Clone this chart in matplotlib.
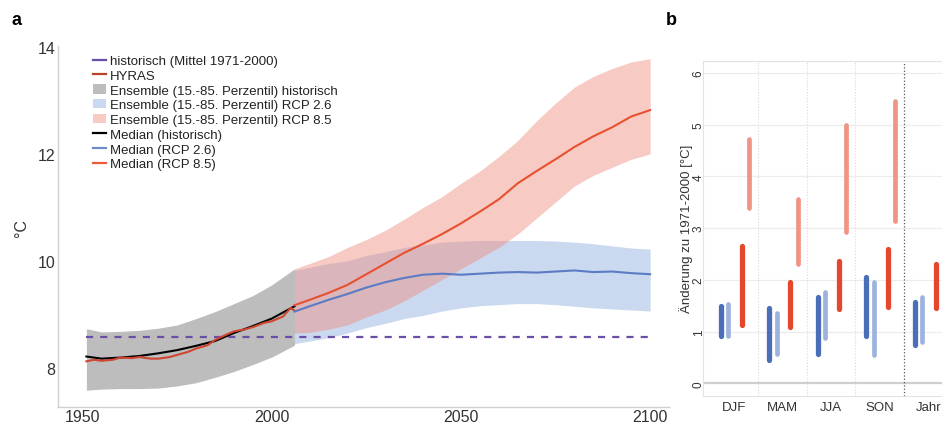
import numpy as np
import matplotlib
matplotlib.use("Agg")
import matplotlib.pyplot as plt
from matplotlib.lines import Line2D
from matplotlib.patches import Patch

plt.rcParams['font.family'] = ['Liberation Sans', 'DejaVu Sans']

# --- panel a: time series ---
hist_years = [1951, 1955, 1960, 1965, 1970, 1975, 1980, 1985, 1990, 1995, 2000, 2006]
hist_lo = [7.58, 7.60, 7.61, 7.61, 7.62, 7.66, 7.72, 7.82, 7.93, 8.06, 8.20, 8.42]
hist_hi = [8.73, 8.67, 8.68, 8.70, 8.74, 8.80, 8.92, 9.05, 9.20, 9.35, 9.55, 9.85]
hist_median = [8.21, 8.17, 8.19, 8.22, 8.27, 8.33, 8.41, 8.50, 8.65, 8.78, 8.92, 9.15]

hyras_years = [1951, 1953, 1955, 1958, 1960, 1963, 1965, 1968, 1970, 1973, 1975, 1978,
               1980, 1983, 1985, 1988, 1990, 1993, 1995, 1998, 2000, 2003, 2005, 2006]
hyras = [8.12, 8.15, 8.13, 8.15, 8.19, 8.18, 8.20, 8.17, 8.17, 8.20, 8.24, 8.30,
         8.36, 8.42, 8.52, 8.62, 8.68, 8.72, 8.76, 8.84, 8.87, 8.96, 9.12, 9.07]

rcp_years = [2006, 2010, 2015, 2020, 2025, 2030, 2035, 2040, 2045, 2050,
             2055, 2060, 2065, 2070, 2075, 2080, 2085, 2090, 2095, 2100]
rcp26_lo = [8.45, 8.50, 8.56, 8.65, 8.75, 8.83, 8.92, 8.98, 9.06, 9.12,
            9.16, 9.18, 9.20, 9.20, 9.18, 9.15, 9.12, 9.10, 9.08, 9.06]
rcp26_hi = [9.82, 9.88, 9.95, 10.00, 10.10, 10.17, 10.25, 10.30, 10.35, 10.37,
            10.38, 10.38, 10.38, 10.38, 10.37, 10.35, 10.32, 10.28, 10.24, 10.22]
rcp26_median = [9.05, 9.15, 9.27, 9.38, 9.50, 9.60, 9.68, 9.74, 9.76, 9.74,
                9.76, 9.78, 9.79, 9.78, 9.80, 9.82, 9.79, 9.80, 9.77, 9.75]
rcp85_lo = [8.65, 8.66, 8.72, 8.80, 8.95, 9.08, 9.25, 9.45, 9.65, 9.85,
            10.05, 10.25, 10.50, 10.80, 11.10, 11.40, 11.60, 11.75, 11.90, 12.00]
rcp85_hi = [9.85, 9.95, 10.08, 10.25, 10.40, 10.57, 10.78, 11.00, 11.20, 11.45,
            11.68, 11.95, 12.25, 12.62, 12.95, 13.25, 13.45, 13.60, 13.72, 13.78]
rcp85_median = [9.17, 9.27, 9.40, 9.55, 9.75, 9.95, 10.15, 10.32, 10.50, 10.70,
                10.92, 11.15, 11.45, 11.68, 11.90, 12.13, 12.33, 12.50, 12.70, 12.82]

ref_mean = 8.58  # Mittel 1971-2000

# --- panel b: change ranges per season ---
seasons = ['DJF', 'MAM', 'JJA', 'SON', 'Jahr']
rcp26_near = ([0.92, 0.45, 0.57, 0.91, 0.74], [1.49, 1.45, 1.67, 2.06, 1.58])
rcp26_far = ([0.92, 0.57, 0.87, 0.54, 0.79], [1.53, 1.35, 1.76, 1.95, 1.67])
rcp85_near = ([1.12, 1.09, 1.44, 1.48, 1.45], [2.66, 1.95, 2.37, 2.60, 2.30])
rcp85_far = ([3.39, 2.30, 2.92, 3.13, 2.95], [4.72, 3.57, 5.00, 5.46, 4.70])

fig = plt.figure(figsize=(9.42, 4.27), dpi=100)

# panel a
ax = fig.add_axes([0.0616, 0.0438, 0.6486, 0.8462])
ax.fill_between(hist_years, hist_lo, hist_hi, color='#bdbdbd', lw=0)
ax.fill_between(rcp_years, rcp26_lo, rcp26_hi, color='#a9c0e6', alpha=0.6, lw=0)
ax.fill_between(rcp_years, rcp85_lo, rcp85_hi, color='#ee8a7c', alpha=0.45, lw=0)
ax.plot([hist_years[0], rcp_years[-1]], [ref_mean, ref_mean], color='#6b4fa6', lw=1.6,
        dashes=(3.2, 3.2))
ax.plot(hist_years, hist_median, color='black', lw=1.5)
ax.plot(hyras_years, hyras, color='#cf4530', lw=1.5)
ax.plot(rcp_years, rcp26_median, color='#5b7cc4', lw=1.5)
ax.plot(rcp_years, rcp85_median, color='#e8502f', lw=1.5)

ax.set_xlim(1943.5, 2105)
ax.set_ylim(7.26, 14.02)
ax.set_xticks([1950, 2000, 2050, 2100])
ax.set_yticks([8, 10, 12, 14])
ax.tick_params(length=0, labelsize=11.5, labelcolor='#333333')
ax.tick_params(axis='x', pad=1)
ax.tick_params(axis='y', pad=2)
for s in ['top', 'right']:
    ax.spines[s].set_visible(False)
for s in ['left', 'bottom']:
    ax.spines[s].set_color('#d0d0d0')
    ax.spines[s].set_linewidth(1.0)
ax.set_ylabel('°C', fontsize=11.5, color='#333333', labelpad=6)

handles = [
    Line2D([], [], color='#6b4fa6', lw=1.6),
    Line2D([], [], color='#b8412c', lw=1.6),
    Patch(color='#bdbdbd', lw=0),
    Patch(color='#cbd9f0', lw=0),
    Patch(color='#f7cac4', lw=0),
    Line2D([], [], color='black', lw=1.6),
    Line2D([], [], color='#6f8cca', lw=1.6),
    Line2D([], [], color='#ee5a3c', lw=1.6),
]
labels = [
    'historisch (Mittel 1971-2000)',
    'HYRAS',
    'Ensemble (15.-85. Perzentil) historisch',
    'Ensemble (15.-85. Perzentil) RCP 2.6',
    'Ensemble (15.-85. Perzentil) RCP 8.5',
    'Median (historisch)',
    'Median (RCP 2.6)',
    'Median (RCP 8.5)',
]
ax.legend(handles, labels, loc='upper left', bbox_to_anchor=(0.057, 0.975),
          frameon=False, fontsize=9.5, labelspacing=0.19, handlelength=1.0,
          handletextpad=0.3, borderpad=0, borderaxespad=0, labelcolor='#222222')

fig.text(0.012, 0.942, 'a', fontsize=13, fontweight='bold')
fig.text(0.707, 0.942, 'b', fontsize=13, fontweight='bold')

# panel b
bx = fig.add_axes([0.7466, 0.071, 0.2645, 0.7845])
xpos = np.arange(1, len(seasons) + 1)
bar_sets = [
    (rcp26_near, -0.27, '#4a6fb8', 3.8),
    (rcp26_far, -0.12, '#9db3de', 3.4),
    (rcp85_near, 0.165, '#e5472e', 3.8),
    (rcp85_far, 0.31, '#ef9486', 3.4),
]
for (lo, hi), off, col, lw in bar_sets:
    bx.vlines(xpos + off, lo, hi, color=col, lw=lw, capstyle='round', zorder=3)

bx.set_xlim(0.37, 5.5)
bx.set_ylim(-0.24, 6.24)
bx.set_xticks(xpos)
bx.set_xticklabels(seasons)
bx.set_yticks(range(0, 7))
bx.tick_params(length=0, labelsize=8.5, labelcolor='#333333')
bx.tick_params(axis='x', labelsize=9.5, pad=4)
bx.tick_params(axis='y', pad=-1)
for lbl in bx.get_yticklabels():
    lbl.set_rotation(90)
    lbl.set_va('center')
for y in range(1, 7):
    bx.axhline(y, color='#ececec', lw=0.8, zorder=0)
bx.axhline(0, color='#cfcfcf', lw=1.6, zorder=1)
for xb in [1.5, 2.5, 3.5]:
    bx.axvline(xb, color='#d8d8d8', lw=0.8, ls=':', zorder=0)
bx.axvline(4.5, color='#555555', lw=0.9, ls=':', zorder=1)
for s in bx.spines.values():
    s.set_color('#e3e3e3')
    s.set_linewidth(0.8)
bx.set_ylabel('Änderung zu 1971-2000 [°C]', fontsize=9.5, color='#333333', labelpad=0)

fig.savefig('out.png', dpi=100)
